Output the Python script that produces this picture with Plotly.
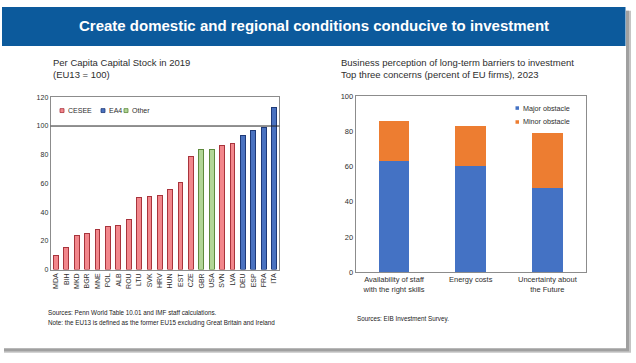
import plotly.graph_objects as go

W, H = 636, 363

# ---------------- data ----------------
countries = ["MDA", "BIH", "MKD", "BGR", "MNE", "POL", "ALB", "ROU", "LTU", "SVK", "HRV",
             "HUN", "EST", "CZE", "GBR", "USA", "SVN", "LVA", "DEU", "ESP", "FRA", "ITA"]
capital_stock = [9.5, 15.5, 24, 25, 28, 30, 31, 35, 50.3, 50.7, 51.4,
                 55.7, 60.5, 78.8, 83.3, 83.5, 86.7, 87.6, 93.3, 96.7, 98.7, 113]
groups = ["CESEE"] * 14 + ["Other", "Other"] + ["CESEE", "CESEE"] + ["EA4"] * 4
group_names = ["CESEE", "EA4", "Other"]

concerns = ["Availability of staff<br>with the right skills", "Energy costs",
            "Uncertainty about<br>the Future"]
major = [63, 60, 48]
minor = [23, 23, 31]

y1_ticks = [0, 20, 40, 60, 80, 100, 120]
y2_ticks = [0, 20, 40, 60, 80, 100]

# ---------------- styles ----------------
FONT = "Liberation Sans"
TXT = "#2e2e2e"
grp_fill = {"CESEE": "#f2878c", "EA4": "#4a72c0", "Other": "#b2d597"}
grp_line = {"CESEE": "#a8343c", "EA4": "#1f3a78", "Other": "#5e8a3c"}
c_major, c_minor = "#4472c4", "#ed7d31"


def px(x):
    return x / W


def py(y):
    return 1 - y / H


fig = go.Figure()

for g in group_names:
    xs = [c for c, gg in zip(countries, groups) if gg == g]
    ys = [v for v, gg in zip(capital_stock, groups) if gg == g]
    fig.add_trace(go.Bar(x=xs, y=ys, name=g, xaxis="x", yaxis="y", width=0.46,
                         marker=dict(color=grp_fill[g], line=dict(color=grp_line[g], width=1)),
                         showlegend=False))

fig.add_trace(go.Bar(x=concerns, y=major, name="Major obstacle", xaxis="x2", yaxis="y2",
                     width=0.4, marker=dict(color=c_major, line=dict(width=0)), showlegend=False))
fig.add_trace(go.Bar(x=concerns, y=minor, name="Minor obstacle", xaxis="x2", yaxis="y2",
                     width=0.4, marker=dict(color=c_minor, line=dict(width=0)), showlegend=False))

axis_common = dict(showline=True, linecolor="#8c8c8c", linewidth=1, mirror=True,
                   showgrid=False, zeroline=False, ticks="", fixedrange=True)

shapes = [
    # frame shadow + panel
    dict(type="rect", xref="paper", yref="paper", x0=px(4), x1=px(631), y0=py(357.5), y1=py(7),
         fillcolor="#c4c4c4", line=dict(width=0), layer="below"),
    dict(type="rect", xref="paper", yref="paper", x0=px(4), x1=px(629), y0=py(356), y1=py(7),
         fillcolor="#a0a0a0", line=dict(width=0), layer="below"),
    dict(type="rect", xref="paper", yref="paper", x0=px(1), x1=px(626), y0=py(353), y1=py(1),
         fillcolor="white", line=dict(width=0), layer="below"),
    # banner
    dict(type="rect", xref="paper", yref="paper", x0=px(2), x1=px(625.5), y0=py(43), y1=py(3),
         fillcolor="#0c5a9c", line=dict(width=0), layer="below"),
    # EU13 = 100 reference line
    dict(type="line", xref="x domain", yref="y", x0=0, x1=1, y0=100, y1=100,
         line=dict(color="#222222", width=1)),
]

annotations = [
    dict(text="<b>Create domestic and regional conditions conducive to investment</b>",
         x=px(313.5), y=py(22), xref="paper", yref="paper", showarrow=False,
         xanchor="center", yanchor="middle", font=dict(family=FONT, size=15, color="white")),
    dict(text="Per Capita Capital Stock in 2019", x=px(51), y=py(60.5), xref="paper", yref="paper",
         showarrow=False, xanchor="left", yanchor="middle",
         font=dict(family=FONT, size=9.5, color=TXT)),
    dict(text="(EU13 = 100)", x=px(51), y=py(72.5), xref="paper", yref="paper",
         showarrow=False, xanchor="left", yanchor="middle",
         font=dict(family=FONT, size=9.5, color=TXT)),
    dict(text="Business perception of long-term barriers to investment", x=px(338.5), y=py(60.5),
         xref="paper", yref="paper", showarrow=False, xanchor="left", yanchor="middle",
         font=dict(family=FONT, size=9.5, color=TXT)),
    dict(text="Top three concerns (percent of EU firms), 2023", x=px(338.5), y=py(72.5),
         xref="paper", yref="paper", showarrow=False, xanchor="left", yanchor="middle",
         font=dict(family=FONT, size=9.5, color=TXT)),
    dict(text="Sources: Penn World Table 10.01 and IMF staff calculations.", x=px(46), y=py(316.7),
         xref="paper", yref="paper", showarrow=False, xanchor="left", yanchor="middle",
         font=dict(family=FONT, size=6.3, color="#222")),
    dict(text="Note: the EU13 is defined as the former EU15 excluding Great Britain and Ireland",
         x=px(46), y=py(327.3), xref="paper", yref="paper", showarrow=False,
         xanchor="left", yanchor="middle", font=dict(family=FONT, size=6.3, color="#222")),
    dict(text="Sources: EIB Investment Survey.", x=px(354.5), y=py(322.7),
         xref="paper", yref="paper", showarrow=False, xanchor="left", yanchor="middle",
         font=dict(family=FONT, size=6.3, color="#222")),
]

# manual legends (compact, as in the original)
left_leg = [("CESEE", 60), ("EA4", 101), ("Other", 124)]
for name, x0 in left_leg:
    shapes.append(dict(type="rect", xref="paper", yref="paper", x0=px(x0), x1=px(x0 + 4),
                       y0=py(111.3), y1=py(107.3), fillcolor=grp_fill[name],
                       line=dict(color=grp_line[name], width=0.8)))
    annotations.append(dict(text=name, x=px(x0 + 5.5), y=py(109.3), xref="paper", yref="paper",
                            showarrow=False, xanchor="left", yanchor="middle",
                            font=dict(family=FONT, size=7, color=TXT)))

right_leg = [("Major obstacle", c_major, 106.7), ("Minor obstacle", c_minor, 121)]
for name, col, yy in right_leg:
    shapes.append(dict(type="rect", xref="paper", yref="paper", x0=px(515.5), x1=px(519),
                       y0=py(yy + 1.8), y1=py(yy - 1.8), fillcolor=col, line=dict(width=0)))
    annotations.append(dict(text=name, x=px(520.5), y=py(yy), xref="paper", yref="paper",
                            showarrow=False, xanchor="left", yanchor="middle",
                            font=dict(family=FONT, size=7.2, color=TXT)))

fig.update_layout(
    width=W, height=H, margin=dict(l=0, r=0, t=0, b=0),
    paper_bgcolor="white", plot_bgcolor="rgba(0,0,0,0)",
    barmode="stack", showlegend=False,
    font=dict(family=FONT, color=TXT),
    xaxis=dict(domain=[px(50.7), px(279.3)], anchor="y", type="category",
               categoryorder="array", categoryarray=countries, tickangle=-90,
               tickfont=dict(size=7, color=TXT), **axis_common),
    yaxis=dict(domain=[py(272.3), py(95.7)], anchor="x", range=[0, 120], tickvals=y1_ticks,
               tickfont=dict(size=7, color=TXT), **axis_common),
    xaxis2=dict(domain=[px(355.7), px(585.7)], anchor="y2", type="category",
                tickfont=dict(size=7.5, color=TXT), **axis_common),
    yaxis2=dict(domain=[py(275), py(94.3)], anchor="x2", range=[0, 100], tickvals=y2_ticks,
                tickfont=dict(size=7.5, color=TXT), **axis_common),
    shapes=shapes, annotations=annotations,
)

fig.write_html(
    "out.html",
    config={"displayModeBar": False},
    post_script="document.body.style.margin='0';document.body.style.overflow='hidden';",
)
